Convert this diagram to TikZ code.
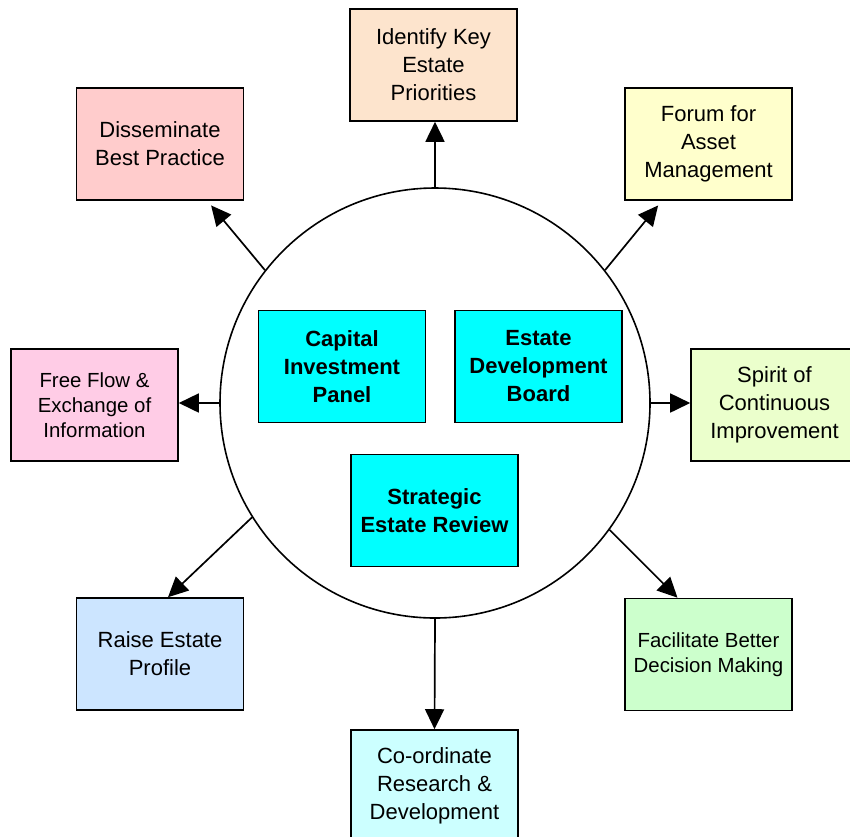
\documentclass[tikz,border=0pt]{standalone}
\usepackage{fontspec}
\setmainfont{Liberation Sans}
\usetikzlibrary{arrows.meta}
\definecolor{PeachBox}{HTML}{FDE4CD}
\definecolor{RoseBox}{HTML}{FFCCCC}
\definecolor{LemonBox}{HTML}{FFFFCC}
\definecolor{PinkBox}{HTML}{FFCCE6}
\definecolor{LimeBox}{HTML}{EBFFCC}
\definecolor{SkyBox}{HTML}{CCE5FF}
\definecolor{MintBox}{HTML}{CCFFCC}
\definecolor{IceBox}{HTML}{CCFFFF}
\definecolor{PanelCyan}{HTML}{00FFFF}

\begin{document}
\begin{tikzpicture}[x=0.5pt, y=-0.5pt,
    aim/.style={draw, line width=0.8pt, minimum width=83.5pt, minimum height=56pt,
                inner sep=2pt, align=center, font=\fontsize{11}{14}\selectfont},
    aimsmall/.style={aim, font=\fontsize{10.2}{12.6}\selectfont},
    panel/.style={aim, fill=PanelCyan, font=\fontsize{11}{14}\selectfont\bfseries},
    spoke/.style={line width=0.85pt, -{Triangle[length=10pt, width=9.5pt]}}]
\useasboundingbox (0,0) rectangle (850,836);

% central ring with the three bodies
\node[draw, circle, line width=0.8pt, minimum size=215pt, inner sep=0pt] (hub) at (435,403) {};
\node[panel] (capital) at (342,366.5) {Capital\\Investment\\Panel};
\node[panel] (estateboard) at (538.5,366.5) {Estate\\Development\\Board};
\node[panel] (review) at (434.5,510.5) {Strategic\\Estate Review};

% outer aims
\node[aim, fill=PeachBox] (priorities) at (433.5,65) {Identify Key\\Estate\\Priorities};
\node[aim, fill=RoseBox] (practice) at (160,144) {Disseminate\\Best Practice};
\node[aim, fill=LemonBox] (forum) at (708.5,144) {Forum for\\Asset\\Management};
\node[aimsmall, fill=PinkBox] (freeflow) at (94.5,405) {Free Flow \&\\Exchange of\\Information};
\node[aim, fill=LimeBox] (spirit) at (774.5,405) {Spirit of\\Continuous\\Improvement};
\node[aim, fill=SkyBox] (profile) at (160,654) {Raise Estate\\Profile};
\node[aimsmall, fill=MintBox] (decision) at (708.5,654.5) {Facilitate Better\\Decision Making};
\node[aim, fill=IceBox] (research) at (434.5,786) {Co-ordinate\\Research \&\\Development};

% spokes
\draw[spoke] (hub.north) -- (hub.north |- priorities.south);
\draw[spoke, shorten >=3pt] (hub.142) -- (practice);
\draw[spoke, shorten >=3pt] (hub.38) -- (forum);
\draw[spoke] (hub.west) -- (hub.west -| freeflow.east);
\draw[spoke] (hub.east) -- (hub.east -| spirit.west);
\draw[spoke] (hub.212) -- ([xshift=4pt]profile.north);
\draw[spoke] (hub.-36.5) -- ([xshift=-15.5pt]decision.north);
\draw[spoke] (hub.south) -- (research.north);
\end{tikzpicture}
\end{document}
